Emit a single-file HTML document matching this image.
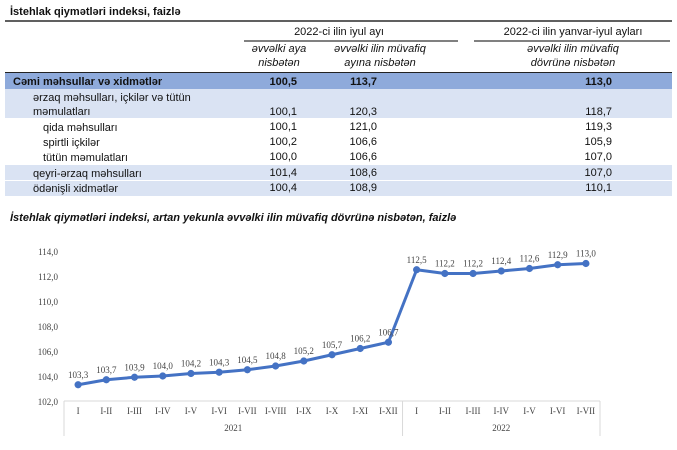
<!DOCTYPE html>
<html><head><meta charset="utf-8"><style>
body{margin:0;background:#fff;}
svg{display:block;font-family:"Liberation Sans",Arial,sans-serif;}
.t{font-size:11px;fill:#111;}
.b{font-weight:bold;}
.i{font-style:italic;}
.ser{font-family:"Liberation Serif",serif;font-size:9px;fill:#444;}
</style></head><body>
<svg width="677" height="450">
<g>
<text x="10" y="15" class="t b" font-size="12">İstehlak qiymətləri indeksi, faizlə</text>
<line x1="5" y1="21" x2="672" y2="21" stroke="#000" stroke-width="1.2"/>
<text x="339" y="35" class="t" text-anchor="middle">2022-ci ilin iyul ayı</text>
<line x1="244" y1="41" x2="458" y2="41" stroke="#000"/>
<text x="573" y="35" class="t" text-anchor="middle">2022-ci ilin yanvar-iyul ayları</text>
<line x1="474" y1="41" x2="670" y2="41" stroke="#000"/>
<text x="279" y="52" class="t i" font-size="10.5" text-anchor="middle">əvvəlki aya</text>
<text x="279" y="66" class="t i" font-size="10.5" text-anchor="middle">nisbətən</text>
<text x="380" y="52" class="t i" font-size="10.5" text-anchor="middle">əvvəlki ilin müvafiq</text>
<text x="380" y="66" class="t i" font-size="10.5" text-anchor="middle">ayına nisbətən</text>
<text x="573" y="52" class="t i" font-size="10.5" text-anchor="middle">əvvəlki ilin müvafiq</text>
<text x="573" y="66" class="t i" font-size="10.5" text-anchor="middle">dövrünə nisbətən</text>
<rect x="5" y="72" width="667" height="17" fill="#8eaadb"/>
<line x1="5" y1="72.5" x2="672" y2="72.5" stroke="#222"/>
<rect x="5" y="89" width="667" height="29" fill="#dae3f3"/>
<rect x="5" y="165" width="667" height="15" fill="#dae3f3"/>
<rect x="5" y="181" width="667" height="15" fill="#dae3f3"/>
<g class="t">
<text x="13" y="85" class="t b">Cəmi məhsullar və xidmətlər</text>
<text x="297" y="85" class="t b" text-anchor="end">100,5</text><text x="377" y="85" class="t b" text-anchor="end">113,7</text><text x="612" y="85" class="t b" text-anchor="end">113,0</text>
<text x="33" y="101" class="t">ərzaq məhsulları, içkilər və tütün</text>
<text x="33" y="115" class="t">məmulatları</text>
<text x="297" y="115" class="t" text-anchor="end">100,1</text><text x="377" y="115" class="t" text-anchor="end">120,3</text><text x="612" y="115" class="t" text-anchor="end">118,7</text>
<text x="43" y="131" class="t">qida məhsulları</text>
<text x="297" y="130" class="t" text-anchor="end">100,1</text><text x="377" y="130" class="t" text-anchor="end">121,0</text><text x="612" y="130" class="t" text-anchor="end">119,3</text>
<text x="43" y="146" class="t">spirtli içkilər</text>
<text x="297" y="145" class="t" text-anchor="end">100,2</text><text x="377" y="145" class="t" text-anchor="end">106,6</text><text x="612" y="145" class="t" text-anchor="end">105,9</text>
<text x="43" y="161" class="t">tütün məmulatları</text>
<text x="297" y="160" class="t" text-anchor="end">100,0</text><text x="377" y="160" class="t" text-anchor="end">106,6</text><text x="612" y="160" class="t" text-anchor="end">107,0</text>
<text x="33" y="177" class="t">qeyri-ərzaq məhsulları</text>
<text x="297" y="176" class="t" text-anchor="end">101,4</text><text x="377" y="176" class="t" text-anchor="end">108,6</text><text x="612" y="176" class="t" text-anchor="end">107,0</text>
<text x="33" y="192" class="t">ödənişli xidmətlər</text>
<text x="297" y="191" class="t" text-anchor="end">100,4</text><text x="377" y="191" class="t" text-anchor="end">108,9</text><text x="612" y="191" class="t" text-anchor="end">110,1</text>
</g>
</g>
<text x="10" y="221" class="t b i" font-size="11.5">İstehlak qiymətləri indeksi, artan yekunla əvvəlki ilin müvafiq dövrünə nisbətən, faizlə</text>
<g id="chart"></g>
</svg>
<script>
const categories=["I","I-II","I-III","I-IV","I-V","I-VI","I-VII","I-VIII","I-IX","I-X","I-XI","I-XII","I","I-II","I-III","I-IV","I-V","I-VI","I-VII"];
const values=[103.3,103.7,103.9,104.0,104.2,104.3,104.5,104.8,105.2,105.7,106.2,106.7,112.5,112.2,112.2,112.4,112.6,112.9,113.0];
const yTicks=[102,104,106,108,110,112,114];
const years=["2021","2022"];
const yearCounts=[12,7];
const NS="http://www.w3.org/2000/svg";
const g=document.getElementById('chart');
const x0=64,x1=600,yb=401,yt=251,ymin=102,ymax=114;
const step=(x1-x0)/categories.length;
const X=i=>x0+step*(i+0.5);
const Y=v=>yb-(v-ymin)/(ymax-ymin)*(yb-yt);
const fmt=v=>v.toFixed(1).replace('.',',');
function mk(t,a,txt){const e=document.createElementNS(NS,t);for(const k in a)e.setAttribute(k,a[k]);if(txt!==undefined)e.textContent=txt;g.appendChild(e);return e;}
yTicks.forEach(v=>{const e=mk('text',{x:58,y:Y(v)+4,'text-anchor':'end',class:'ser','font-size':'10'},fmt(v));

});
const ax=mk('line',{x1:x0,y1:yb,x2:x1,y2:yb,stroke:'#d9d9d9'});


let start=0;
[0].concat(yearCounts.map((c,i)=>yearCounts.slice(0,i+1).reduce((a,b)=>a+b,0))).forEach(k=>{
const l=mk('line',{x1:x0+step*k,y1:yb,x2:x0+step*k,y2:436,stroke:'#d9d9d9'});

});
years.forEach((yr,i)=>{const c=yearCounts[i];const e=mk('text',{x:x0+step*(start+c/2),y:431,'text-anchor':'middle',class:'ser','font-size':'8'},yr);


start+=c;});
categories.forEach((c,i)=>{const e=mk('text',{x:X(i),y:414,'text-anchor':'middle',class:'ser','font-size':'8.5'},c);

});
const line=mk('polyline',{points:values.map((v,i)=>X(i)+','+Y(v)).join(' '),fill:'none',stroke:'#4472c4','stroke-width':'3','stroke-linejoin':'round'});


values.forEach((v,i)=>{const p=mk('circle',{cx:X(i),cy:Y(v),r:3.6,fill:'#4472c4'});


const t=mk('text',{x:X(i),y:Y(v)-7,'text-anchor':'middle',class:'ser','font-size':'8.5'},fmt(v));

});
</script>
</body></html>
